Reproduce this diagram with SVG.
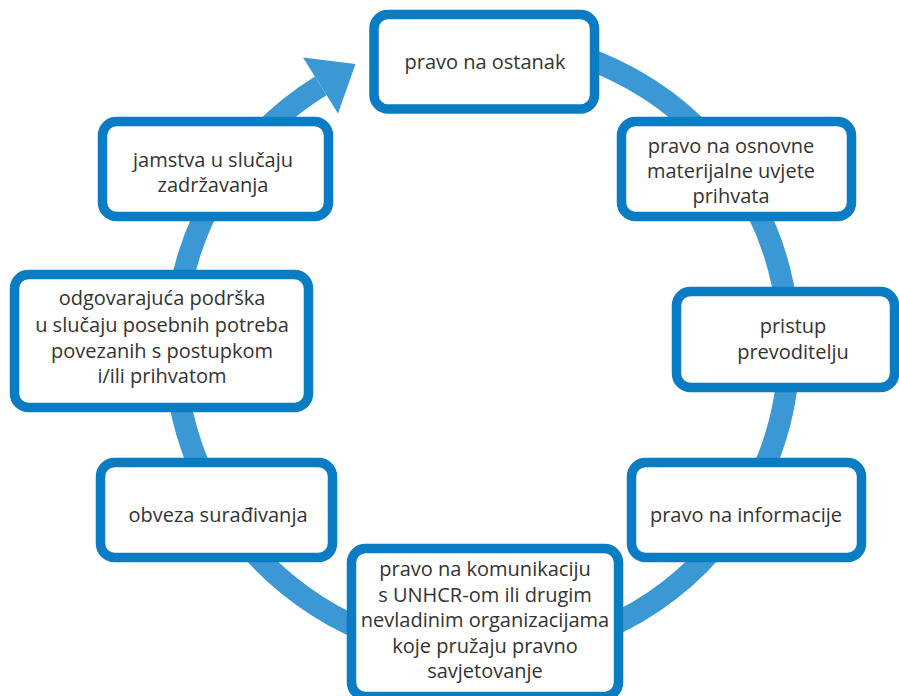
<svg xmlns="http://www.w3.org/2000/svg" width="899" height="696" viewBox="0 0 899 696">
<style>
.box rect{fill:#fff;stroke:#0a7cc4;stroke-width:9.5}
.box text{font-family:"Open Sans","Noto Sans","Liberation Sans",sans-serif;font-size:20px;fill:#333;text-anchor:middle}
.ring{fill:none;stroke:#3c98d4;stroke-width:22}
</style>
<rect width="899" height="696" fill="#fff"/>
<g id="connectors">
<path class="ring" d="M 482 40 A 307 307 0 1 1 320.7 85.8"/>
<polygon points="303,57.5 355.5,64 338,113.5" fill="#3c98d4"/>
</g>
<g id="n1" class="box"><rect x="374" y="14.5" width="220.5" height="94.5" rx="14"/><text x="485" y="69">pravo na ostanak</text></g>
<g id="n2" class="box"><rect x="621.5" y="121.5" width="230" height="95" rx="14"/><text x="731" y="153">pravo na osnovne</text><text x="731" y="178">materijalne uvjete</text><text x="731" y="203">prihvata</text></g>
<g id="n3" class="box"><rect x="676.5" y="291.5" width="218" height="96" rx="14"/><text x="793" y="333">pristup</text><text x="793" y="359">prevoditelju</text></g>
<g id="n8" class="box"><rect x="631.5" y="462.5" width="230" height="95" rx="14"/><text x="746" y="522">pravo na informacije</text></g>
<g id="n7" class="box"><rect x="351.5" y="548.5" width="267" height="148" rx="14"/><text x="485" y="576">pravo na komunikaciju</text><text x="485" y="602">s UNHCR-om ili drugim</text><text x="485" y="627">nevladinim organizacijama</text><text x="485" y="653">koje pružaju pravno</text><text x="485" y="678">savjetovanje</text></g>
<g id="n6" class="box"><rect x="100.5" y="462.5" width="232" height="95" rx="14"/><text x="218" y="522">obveza surađivanja</text></g>
<g id="n5" class="box"><rect x="14.5" y="274.5" width="294" height="133" rx="14"/><text x="162" y="305">odgovarajuća podrška</text><text x="162" y="332">u slučaju posebnih potreba</text><text x="162" y="358">povezanih s postupkom</text><text x="162" y="383">i/ili prihvatom</text></g>
<g id="n4" class="box"><rect x="102.5" y="121.5" width="226" height="95" rx="14"/><text x="213" y="167">jamstva u slučaju</text><text x="213" y="192">zadržavanja</text></g>
</svg>
